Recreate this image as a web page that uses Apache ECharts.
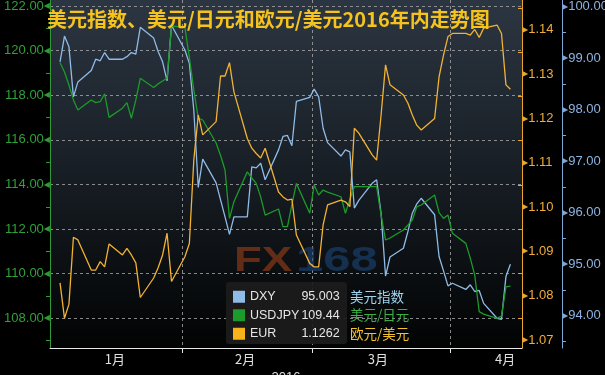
<!DOCTYPE html>
<html><head><meta charset="utf-8">
<script src="https://cdn.jsdelivr.net/npm/echarts@6/dist/echarts.min.js"></script>
<style>html,body{margin:0;padding:0;background:#000;}#c{width:605px;height:375px;}</style>
</head><body><div id="c"></div>
<script>
// ---- data (trading days, 2016) ----
const dates = [
 '2016-01-04','2016-01-05','2016-01-06','2016-01-07','2016-01-08','2016-01-11','2016-01-12','2016-01-13','2016-01-14','2016-01-15',
 '2016-01-18','2016-01-19','2016-01-20','2016-01-21','2016-01-22','2016-01-25','2016-01-26','2016-01-27','2016-01-28','2016-01-29',
 '2016-02-01','2016-02-02','2016-02-03','2016-02-04','2016-02-05','2016-02-08','2016-02-09','2016-02-10','2016-02-11','2016-02-12',
 '2016-02-15','2016-02-16','2016-02-17','2016-02-18','2016-02-19','2016-02-22','2016-02-23','2016-02-24','2016-02-25','2016-02-26','2016-02-29',
 '2016-03-01','2016-03-02','2016-03-03','2016-03-04','2016-03-07','2016-03-08','2016-03-09','2016-03-10','2016-03-11','2016-03-14',
 '2016-03-15','2016-03-16','2016-03-17','2016-03-18','2016-03-21','2016-03-22','2016-03-23','2016-03-24','2016-03-25','2016-03-28',
 '2016-03-29','2016-03-30','2016-03-31',
 '2016-04-01','2016-04-04','2016-04-05','2016-04-06','2016-04-07','2016-04-08','2016-04-11','2016-04-12','2016-04-13','2016-04-14'
];
const dxy = [
 98.93,99.43,99.22,98.25,98.54,98.76,98.98,98.95,99.11,98.98,98.98,99.03,99.11,99.08,99.60,99.39,99.13,98.93,98.56,99.64,
 99.16,98.90,97.99,96.49,97.04,96.58,96.25,95.92,95.58,95.92,95.92,96.89,96.87,96.96,96.64,97.22,97.48,97.50,97.30,98.16,98.24,
 98.40,98.25,97.64,97.36,97.10,97.22,97.18,96.09,96.24,96.57,96.64,95.99,94.77,95.14,95.31,95.63,95.99,96.17,96.28,95.96,95.15,94.87,94.58,
 94.63,94.51,94.60,94.47,94.49,94.24,93.95,93.93,94.76,95.00
];
const usdjpy = [
 119.46,119.04,118.46,117.79,117.34,117.79,117.67,117.71,118.06,117.01,117.42,117.67,116.97,117.79,118.76,118.35,118.51,118.64,118.76,121.10,
 121.05,119.70,118.24,116.97,116.89,115.86,115.30,114.65,112.48,113.23,114.57,114.29,114.05,113.44,112.63,112.90,112.11,112.11,113.10,114.05,112.71,
 113.98,113.53,113.75,113.66,113.45,112.71,113.34,113.90,113.90,113.90,113.90,112.63,111.51,111.60,111.96,112.18,112.41,113.00,113.08,113.53,112.74,112.48,112.63,
 111.81,111.36,110.70,109.94,108.30,108.19,108.00,108.10,109.41,109.44
];
const eur = [
 1.0829,1.0749,1.0781,1.0932,1.0926,1.0858,1.0858,1.0877,1.0865,1.0917,1.0892,1.0907,1.0892,1.0874,1.0796,1.0840,1.0863,1.0892,1.0941,1.0832,
 1.0888,1.0918,1.1106,1.1208,1.1163,1.1193,1.1296,1.1296,1.1326,1.1260,1.1155,1.1133,1.1121,1.1111,1.1133,1.1034,1.1023,1.1016,1.1018,1.0937,1.0873,
 1.0865,1.0865,1.0960,1.1005,1.1016,1.1012,1.1001,1.1178,1.1167,1.1118,1.1106,1.1208,1.1321,1.1276,1.1253,1.1235,1.1208,1.1185,1.1174,1.1200,1.1294,1.1343,1.1385,
 1.1392,1.1392,1.1388,1.1401,1.1383,1.1404,1.1411,1.1392,1.1276,1.1266
];
const seriesNames = ['DXY','USDJPY','EUR'];
const seriesCN = ['美元指数','美元/日元','欧元/美元'];
const lastValues = ['95.003','109.44','1.1262'];
const monthLabels = ['1月','2月','3月','4月'];
const monthLabelDay = [15.8, 45, 74.8, 103.3];   // label anchor (day of year)
const monthStartDay = [31, 60, 91];               // Feb 1, Mar 1, Apr 1
const jpyTicks = [108,110,112,114,116,118,120,122];
const jpyMinor = [107,109,111,113,115,117,119,121];
const eurTicks = [1.07,1.08,1.09,1.10,1.11,1.12,1.13,1.14];
const eurMinor = [1.075,1.085,1.095,1.105,1.115,1.125,1.135,1.145];
const dxyTicks = [94,95,96,97,98,99,100];
const dxyMinor = [93.5,94.5,95.5,96.5,97.5,98.5,99.5];
const titleText = '美元指数、美元/日元和欧元/美元2016年内走势图';

// ---- helpers ----
const T0 = Date.UTC(2016,0,1);
function dayOf(s){const p=s.split('-');return (Date.UTC(+p[0],+p[1]-1,+p[2])-T0)/86400000+0.5;}
const xs = dates.map(dayOf);
const pair = arr => arr.map((v,i)=>[xs[i],v]);

const C_DXY='#8fbbe6', C_JPY='#1c9a2a', C_EUR='#f2b233';
const LBL_JPY='#31a03a', LBL_EUR='#f0ac3a', LBL_DXY='#8db3e2';
const FONT='Liberation Sans';
const JMIN=106.67,JMAX=122.27,EMIN=1.0682,EMAX=1.14675,DMIN=93.373,DMAX=100.13;

function mainAxis(pos,min,max,ticks,color,lcolor,dec,offset,split){
  const left = pos==='left';
  return {
    type:'value',position:pos,min:min,max:max,offset:offset||0,scale:true,
    axisLine:{show:true,lineStyle:{color:color,width:1}},
    axisTick:{show:false,customValues:ticks},
    axisLabel:{customValues:ticks,margin:0,color:lcolor,fontFamily:FONT,fontSize:13,hideOverlap:false,
      formatter:v=> left?('{v|'+v.toFixed(dec)+'}{t|◀}'):('{t|▶}{v|'+v.toFixed(dec)+'}'),
      rich:{v:{color:lcolor,fontFamily:FONT,fontSize:13},t:{color:color,fontSize:8,fontFamily:'DejaVu Sans'}}},
    splitLine:{show:!!split,lineStyle:{color:'#a8a8a8',type:[3,3],width:1,opacity:0.8}}
  };
}
function minorAxis(pos,min,max,ticks,color,inside,offset){
  return {type:'value',position:pos,min:min,max:max,offset:offset||0,
    axisLine:{show:false},axisLabel:{show:false},splitLine:{show:false},
    axisTick:{show:true,customValues:ticks,length:4,inside:!!inside,lineStyle:{color:color,width:1}}};
}

const chart = echarts.init(document.getElementById('c'),null,{renderer:'canvas'});
chart.setOption({
  backgroundColor:'#000',
  animation:false,
  title:{text:titleText,left:42,top:4,textStyle:{color:'#f6c31c',fontSize:20,fontWeight:'bold',fontFamily:'Noto Sans CJK SC'}},
  grid:{left:50,right:83,top:0,bottom:27,show:true,borderWidth:0,outerBoundsMode:'none',containLabel:false,
    backgroundColor:new echarts.graphic.LinearGradient(0,0,0,1,[
      {offset:0,color:'#2c3642'},{offset:0.55,color:'#151b21'},{offset:1,color:'#020303'}])},
  xAxis:{type:'value',min:1.25,max:107.1,
    axisLine:{lineStyle:{color:'#e8e8e8',width:1}},
    axisTick:{show:true,customValues:monthStartDay,length:5,lineStyle:{color:'#e8e8e8'}},
    axisLabel:{customValues:monthLabelDay,color:'#e0e0e0',fontSize:13,margin:5,fontFamily:'Noto Sans CJK SC',
      formatter:v=>{let b=0;monthLabelDay.forEach((d,i)=>{if(Math.abs(d-v)<Math.abs(monthLabelDay[b]-v))b=i;});return monthLabels[b];}},
    splitLine:{show:true,lineStyle:{color:'#a8a8a8',type:[3,3],width:1,opacity:0.8}},
    name:'2016',nameLocation:'middle',nameGap:23,nameTextStyle:{color:'#e0e0e0',fontSize:13,fontFamily:FONT}
  },
  yAxis:[
    mainAxis('left',JMIN,JMAX,jpyTicks,'#2f9a36',LBL_JPY,2,0,true),
    mainAxis('right',EMIN,EMAX,eurTicks,'#e9a530',LBL_EUR,2,0,false),
    mainAxis('right',DMIN,DMAX,dxyTicks,'#7ea6d6',LBL_DXY,2,40,false),
    minorAxis('left',JMIN,JMAX,jpyMinor,'#2f9a36',false,0),
    minorAxis('right',EMIN,EMAX,eurMinor,'#e9a530',true,0),
    minorAxis('right',DMIN,DMAX,dxyMinor,'#7ea6d6',false,40)
  ],
  legend:{data:seriesNames,orient:'vertical',left:233,top:290,itemWidth:12,itemHeight:12,itemGap:5,icon:'rect',
    selectedMode:false,z:10,padding:0,
    formatter:n=>{const i=seriesNames.indexOf(n);return '{n|'+n+'}{v|'+lastValues[i]+'}{c'+i+'|'+seriesCN[i]+'}';},
    textStyle:{color:'#e6e6e6',fontFamily:FONT,fontSize:12,
      rich:{n:{width:52,color:'#e6e6e6',fontFamily:FONT,fontSize:12.5},
            v:{width:37,align:'right',color:'#e6e6e6',fontFamily:FONT,fontSize:12.5},
            c0:{color:'#9fd4ee',fontSize:13.5,padding:[0,0,0,11],fontFamily:'Noto Sans CJK SC'},
            c1:{color:'#3cb043',fontSize:13.5,padding:[0,0,0,11],fontFamily:'Noto Sans CJK SC'},
            c2:{color:'#f3c22e',fontSize:13.5,padding:[0,0,0,11],fontFamily:'Noto Sans CJK SC'}}}},
  graphic:[
    {type:'text',left:234,top:244,z:1,silent:true,scaleX:1.3,
      style:{text:'FX',fill:'rgba(170,70,25,0.55)',font:'bold 35px "Liberation Sans"'}},
    {type:'text',left:296,top:244,z:1,silent:true,scaleX:1.4,
      style:{text:'168',fill:'rgba(30,75,130,0.55)',font:'bold 35px "Liberation Sans"'}},
    {type:'rect',left:226,top:282,z:5,silent:true,shape:{width:121,height:62,r:3},style:{fill:'rgba(28,28,28,0.92)'}}
  ],
  series:[
    {name:'DXY',type:'line',yAxisIndex:2,data:pair(dxy),symbol:'none',lineStyle:{color:C_DXY,width:1.3},itemStyle:{color:C_DXY},z:3},
    {name:'USDJPY',type:'line',yAxisIndex:0,data:pair(usdjpy),symbol:'none',lineStyle:{color:C_JPY,width:1.3},itemStyle:{color:C_JPY},z:3},
    {name:'EUR',type:'line',yAxisIndex:1,data:pair(eur),symbol:'none',lineStyle:{color:C_EUR,width:1.3},itemStyle:{color:'#f7b21b'},z:3}
  ]
});
</script></body></html>
